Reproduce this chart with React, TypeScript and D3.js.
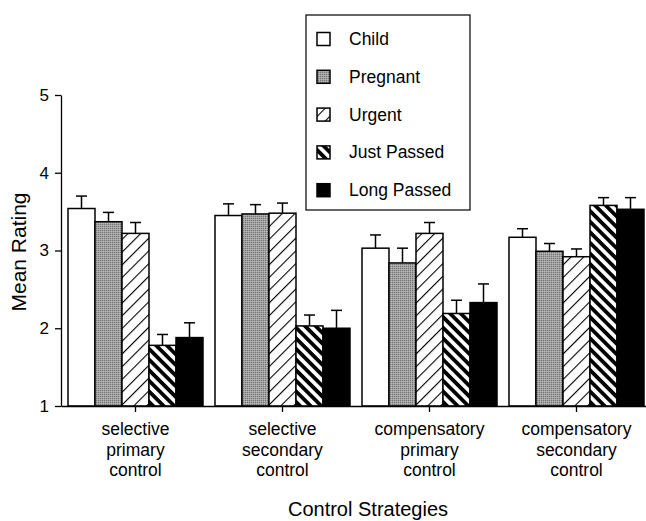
import React, { useEffect, useRef } from 'react';
import * as d3 from 'd3';

// categories on the x axis (one line of text per entry)
const categories = ['sp', 'ss', 'cp', 'cs'];
const categoryLines = [
  ['selective', 'primary', 'control'],
  ['selective', 'secondary', 'control'],
  ['compensatory', 'primary', 'control'],
  ['compensatory', 'secondary', 'control'],
];

const seriesNames = ['Child', 'Pregnant', 'Urgent', 'Just Passed', 'Long Passed'];

// mean ratings, one value per category
const childMeans = [3.54, 3.45, 3.03, 3.17];
const pregnantMeans = [3.37, 3.47, 2.84, 2.99];
const urgentMeans = [3.22, 3.48, 3.22, 2.92];
const justPassedMeans = [1.78, 2.03, 2.19, 3.58];
const longPassedMeans = [1.88, 2.0, 2.33, 3.53];

// standard errors (error bar length above the mean)
const childErr = [0.16, 0.15, 0.17, 0.11];
const pregnantErr = [0.12, 0.12, 0.19, 0.1];
const urgentErr = [0.14, 0.13, 0.14, 0.1];
const justPassedErr = [0.14, 0.14, 0.17, 0.1];
const longPassedErr = [0.19, 0.23, 0.24, 0.15];

const yTicks = [1, 2, 3, 4, 5];

const FONT = '"Liberation Sans", Arial, Helvetica, sans-serif';

const App = () => {
  const svgRef = useRef<SVGSVGElement>(null);

  useEffect(() => {
    const svg = d3.select(svgRef.current);
    svg.selectAll('*').remove();

    const allMeans = [childMeans, pregnantMeans, urgentMeans, justPassedMeans, longPassedMeans];
    const allErr = [childErr, pregnantErr, urgentErr, justPassedErr, longPassedErr];
    const fills = ['#ffffff', 'url(#pat-pregnant)', 'url(#pat-urgent)', 'url(#pat-just)', '#000000'];

    // --- patterns ---
    const defs = svg.append('defs');
    const preg = defs.append('pattern')
      .attr('id', 'pat-pregnant')
      .attr('patternUnits', 'userSpaceOnUse')
      .attr('width', 2).attr('height', 2);
    preg.append('rect').attr('width', 2).attr('height', 2).attr('fill', '#a0a0a0');
    preg.append('rect').attr('width', 1).attr('height', 1).attr('fill', '#757575');
    preg.append('rect').attr('x', 1).attr('y', 1).attr('width', 1).attr('height', 1).attr('fill', '#bababa');

    const urg = defs.append('pattern')
      .attr('id', 'pat-urgent')
      .attr('patternUnits', 'userSpaceOnUse')
      .attr('width', 9).attr('height', 9)
      .attr('patternTransform', 'rotate(-45)');
    urg.append('rect').attr('width', 9).attr('height', 9).attr('fill', '#fff');
    urg.append('rect').attr('y', 0).attr('width', 9).attr('height', 1.1).attr('fill', '#000');

    const just = defs.append('pattern')
      .attr('id', 'pat-just')
      .attr('patternUnits', 'userSpaceOnUse')
      .attr('width', 7.5).attr('height', 7.5)
      .attr('patternTransform', 'rotate(45)');
    just.append('rect').attr('width', 7.5).attr('height', 7.5).attr('fill', '#fff');
    just.append('rect').attr('width', 7.5).attr('height', 3.8).attr('fill', '#000');

    // --- scales ---
    const y = d3.scaleLinear().domain([1, 5]).range([406, 95]);
    const x0 = d3.scaleBand().domain(categories).range([61, 651]).paddingInner(0.0816).paddingOuter(0.0476);
    const x1 = d3.scaleBand().domain(seriesNames).range([0, x0.bandwidth()]);

    // --- bars ---
    const groups = svg.append('g').selectAll('g')
      .data(categories)
      .enter().append('g')
      .attr('transform', d => `translate(${x0(d)},0)`);

    groups.each(function (cat, ci) {
      const g = d3.select(this);
      seriesNames.forEach((s, si) => {
        const v = allMeans[si][ci];
        const e = allErr[si][ci];
        const bx = x1(s) as number;
        const cx = bx + x1.bandwidth() / 2;
        // error bar
        g.append('line')
          .attr('x1', cx).attr('x2', cx)
          .attr('y1', y(v)).attr('y2', y(v + e))
          .attr('stroke', '#000').attr('stroke-width', 1.5);
        g.append('line')
          .attr('x1', cx - 5.5).attr('x2', cx + 5.5)
          .attr('y1', y(v + e)).attr('y2', y(v + e))
          .attr('stroke', '#000').attr('stroke-width', 1.5);
        g.append('rect')
          .attr('x', bx).attr('y', y(v))
          .attr('width', x1.bandwidth()).attr('height', y(1) - y(v))
          .attr('fill', fills[si])
          .attr('stroke', '#000').attr('stroke-width', 1.5);
      });
    });

    // --- axes ---
    const yAxis = svg.append('g')
      .attr('transform', 'translate(61,0)')
      .call(d3.axisLeft(y).tickValues(yTicks).tickFormat(d3.format('d')).tickSize(6).tickSizeOuter(0).tickPadding(6));
    yAxis.selectAll('path, line').attr('stroke', '#000').attr('stroke-width', 1.3);
    yAxis.attr('font-size', null).attr('font-family', null);
    yAxis.selectAll('text').attr('font-family', FONT).attr('font-size', 17).attr('fill', '#000');

    const xAxis = svg.append('g')
      .attr('transform', 'translate(0,406)')
      .call(d3.axisBottom(x0).tickSize(6).tickSizeOuter(0).tickFormat(() => ''));
    xAxis.selectAll('path, line').attr('stroke', '#000').attr('stroke-width', 1.3);

    // category labels
    const labels = svg.append('g')
      .attr('font-family', FONT).attr('font-size', 17.5).attr('text-anchor', 'middle').attr('fill', '#000');
    categories.forEach((c, i) => {
      const cx = (x0(c) as number) + x0.bandwidth() / 2;
      categoryLines[i].forEach((line, li) => {
        labels.append('text').attr('x', cx).attr('y', 435 + li * 20.5).text(line);
      });
    });

    // axis titles
    svg.append('text')
      .attr('x', 368).attr('y', 516)
      .attr('text-anchor', 'middle')
      .attr('font-family', FONT).attr('font-size', 20)
      .text('Control Strategies');
    svg.append('text')
      .attr('transform', 'translate(26,252) rotate(-90)')
      .attr('text-anchor', 'middle')
      .attr('font-family', FONT).attr('font-size', 21)
      .text('Mean Rating');

    // --- legend ---
    const legend = svg.append('g');
    legend.append('rect')
      .attr('x', 306).attr('y', 15).attr('width', 164).attr('height', 195)
      .attr('fill', '#fff').attr('stroke', '#000').attr('stroke-width', 1.2);
    seriesNames.forEach((s, i) => {
      const cy = 39 + i * 37.8;
      legend.append('rect')
        .attr('x', 317).attr('y', cy - 6.5).attr('width', 13).attr('height', 13)
        .attr('fill', fills[i]).attr('stroke', '#000').attr('stroke-width', 1.5);
      legend.append('text')
        .attr('x', 349).attr('y', cy + 6)
        .attr('font-family', FONT).attr('font-size', 17.5)
        .text(s);
    });
  }, []);

  return (
    <div style={{ position: 'absolute', left: 0, top: 0 }}>
      <svg ref={svgRef} width={646} height={521} style={{ display: 'block', background: '#fff' }} />
    </div>
  );
};

export default App;
